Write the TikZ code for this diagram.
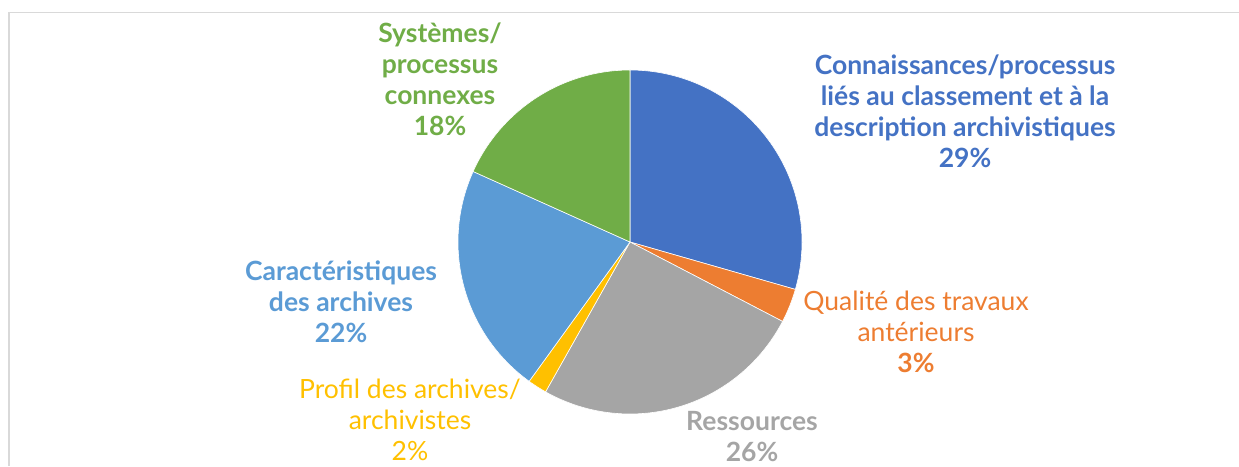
\documentclass[tikz,border=0pt]{standalone}
\usepackage{fontspec}
\setmainfont{Lato}
\definecolor{cBlue}{RGB}{68,114,196}
\definecolor{cOrange}{RGB}{237,125,49}
\definecolor{cGray}{RGB}{165,165,165}
\definecolor{cYellow}{RGB}{255,192,0}
\definecolor{cLightBlue}{RGB}{91,155,213}
\definecolor{cGreen}{RGB}{112,173,71}
\definecolor{cFrame}{RGB}{217,217,217}
\tikzset{
  slice/.style={draw=white, line width=0.6pt},
  pielabel/.style={align=center, font=\fontsize{26.5}{31}\selectfont\bfseries},
  thinlabel/.style={align=center, font=\fontsize{26.5}{31}\selectfont}
}
\begin{document}
\begin{tikzpicture}[x=1pt, y=1pt]
  \useasboundingbox (0, 0) rectangle (1239, 466);
  % cadre
  \draw[cFrame, line width=1.5pt] (9, 0) -- (9, 453.5) -- (1239, 453.5);
  % secteurs
  \coordinate (O) at (630, 224);
  \filldraw[cBlue, slice] (O) -- ++(90:172) arc (90:-16:172) -- cycle;
  \filldraw[cOrange, slice] (O) -- ++(-16:172) arc (-16:-27.5:172) -- cycle;
  \filldraw[cGray, slice] (O) -- ++(-27.5:172) arc (-27.5:-119.4:172) -- cycle;
  \filldraw[cYellow, slice] (O) -- ++(-119.4:172) arc (-119.4:-125.9:172) -- cycle;
  \filldraw[cLightBlue, slice] (O) -- ++(-125.9:172) arc (-125.9:-204.2:172) -- cycle;
  \filldraw[cGreen, slice] (O) -- ++(-204.2:172) arc (-204.2:-270:172) -- cycle;
  % etiquettes
  \node[pielabel, text=cGreen] (systemes) at (440, 387)
    {Systèmes/\\processus\\connexes\\18\%};
  \node[pielabel, text=cBlue] (connaissances) at (965, 355)
    {Connaissances/processus\\liés au classement et à la\\description archivistiques\\29\%};
  \node[thinlabel, text=cOrange] (qualite) at (916, 134)
    {Qualité des travaux\\antérieurs\\\textbf{3\%}};
  \node[thinlabel, text=cYellow] (profil) at (410, 46)
    {Profil des archives/\\archivistes\\2\%};
  \node[pielabel, text=cGray] (ressources) at (752, 29)
    {Ressources\\26\%};
  \node[pielabel, text=cLightBlue] (caracteristiques) at (341, 164)
    {Caractéristiques\\des archives\\22\%};
\end{tikzpicture}
\end{document}
